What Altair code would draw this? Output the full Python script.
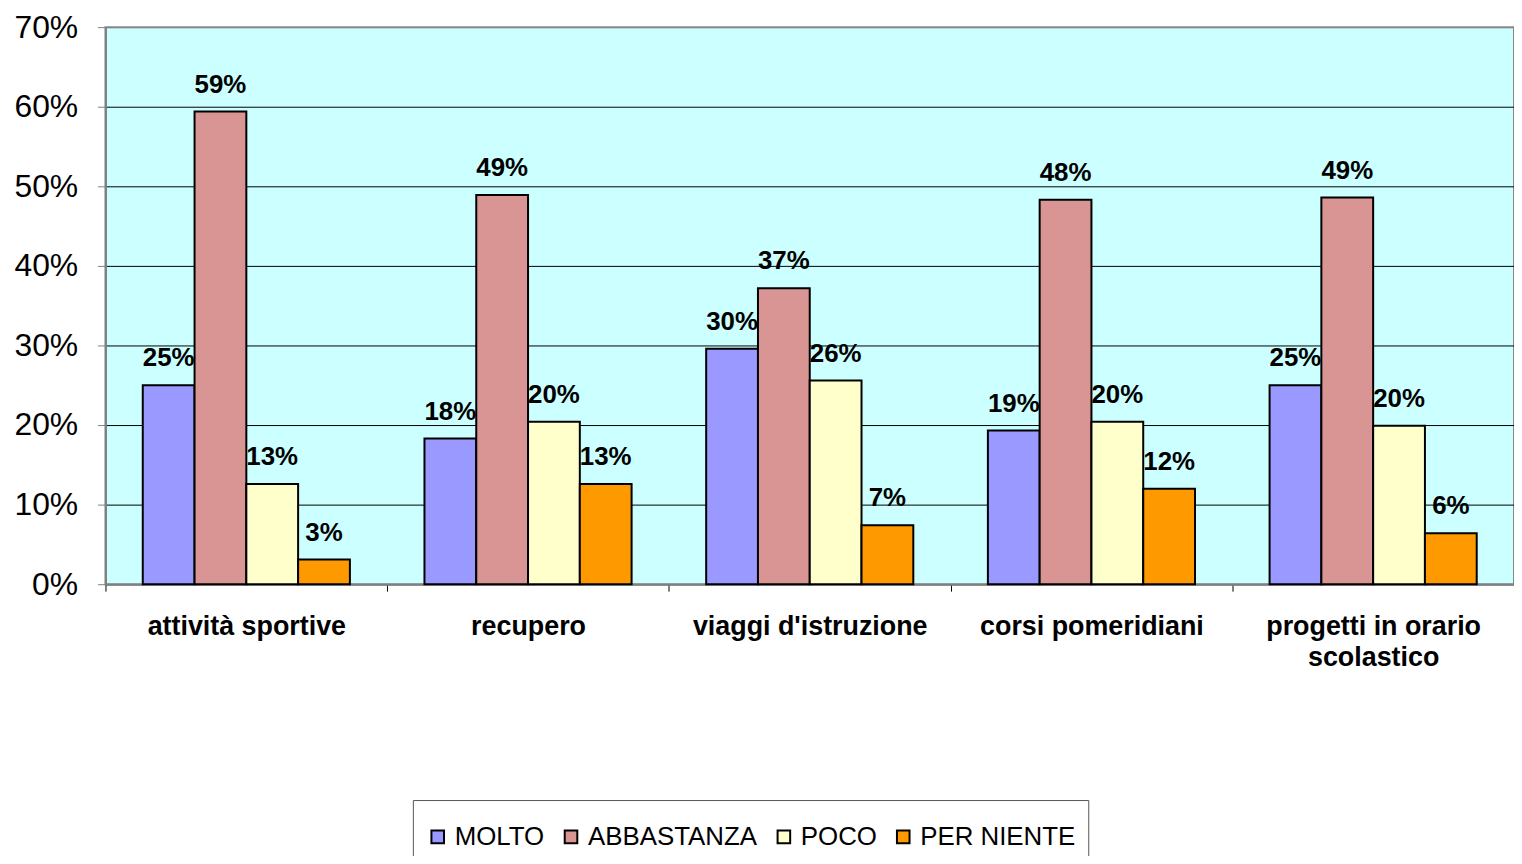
import altair as alt
import pandas as pd

categories = ["attività sportive", "recupero", "viaggi d'istruzione",
              "corsi pomeridiani", "progetti in orario scolastico"]
series = ["MOLTO", "ABBASTANZA", "POCO", "PER NIENTE"]
molto = [25.0, 18.3, 29.6, 19.3, 25.0]
abbastanza = [59.4, 48.9, 37.2, 48.3, 48.6]
poco = [12.6, 20.4, 25.6, 20.4, 19.9]
per_niente = [3.1, 12.6, 7.4, 12.0, 6.4]
colors = ["#9999FF", "#D99594", "#FFFFCC", "#FF9900"]
y_ticks = [0, 0.1, 0.2, 0.3, 0.4, 0.5, 0.6, 0.7]

rows = []
for s, vals in zip(series, [molto, abbastanza, poco, per_niente]):
    for c, v in zip(categories, vals):
        rows.append({"cat": c, "serie": s, "val": v / 100})
df = pd.DataFrame(rows)

FONT = "Liberation Sans"
W, H = 1416, 560

label_expr = ("datum.value == 'progetti in orario scolastico' ? "
              "['progetti in orario', 'scolastico'] : datum.label")

x = alt.X("cat:N", sort=categories, title=None,
          scale=alt.Scale(paddingInner=0, paddingOuter=0),
          axis=alt.Axis(labelAngle=0, labelFont=FONT, labelFontSize=27,
                        labelFontWeight="bold", labelColor="black",
                        tickBand="extent", tickSize=7, tickColor="black",
                        domainColor="#808080", domainWidth=2,
                        labelPadding=23, labelLineHeight=31,
                        labelBaseline="top", labelExpr=label_expr,
                        labelLimit=400, grid=False))
xo = alt.XOffset("serie:N", sort=series,
                 scale=alt.Scale(paddingOuter=0.72, paddingInner=0))
y = alt.Y("val:Q", title=None,
          scale=alt.Scale(domain=[0, 0.7], nice=False),
          axis=alt.Axis(values=y_ticks, format=".0%", labelFont=FONT,
                        labelFontSize=32, labelColor="black",
                        labelPadding=20, tickSize=8, tickColor="#808080",
                        domainColor="#808080", domainWidth=2,
                        grid=True,
                        gridColor={"condition": {"test": "datum.value >= 0.69",
                                                 "value": "#888888"},
                                   "value": "black"},
                        gridWidth=1))

color = alt.Color("serie:N", sort=series,
                  scale=alt.Scale(domain=series, range=colors),
                  legend=alt.Legend(orient="none", legendX=309, legendY=777,
                                    direction="horizontal", columns=4,
                                    title=" ", titleFontSize=7, titlePadding=5,
                                    symbolType="square",
                                    symbolSize=160, symbolStrokeColor="black",
                                    symbolStrokeWidth=2, symbolOpacity=1,
                                    labelFontSize=26, labelFont=FONT,
                                    labelColor="black", labelLimit=400,
                                    columnPadding=13, labelOffset=4,
                                    padding=12, strokeColor="#555555",
                                    fillColor="white"))

bars = alt.Chart(df).mark_bar(stroke="black", strokeWidth=2, opacity=1).encode(
    x=x, xOffset=xo, y=y, color=color)

labels = alt.Chart(df).mark_text(dy=-19, baseline="alphabetic", align="center",
                                 fontWeight="bold", fontSize=26, font=FONT,
                                 color="black").encode(
    x=x, xOffset=xo, y=y, text=alt.Text("val:Q", format=".0%"))

chart = alt.layer(bars, labels).properties(
    width=W, height=H,
    autosize=alt.AutoSizeParams(type="none"),
    padding={"left": 98, "top": 17, "right": 0, "bottom": 271},
    background="white",
).configure_view(fill="#CCFFFF", stroke="#888888", strokeWidth=2)

chart.save("out.html", embed_options={"renderer": "svg", "actions": False})
